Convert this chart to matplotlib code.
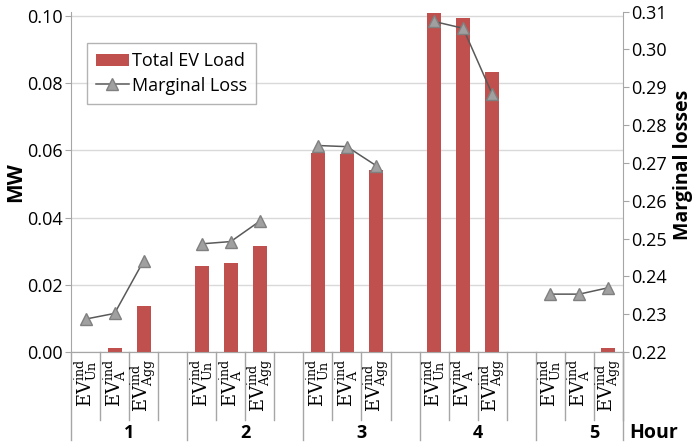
import numpy as np
import matplotlib
matplotlib.use("Agg")
import matplotlib.pyplot as plt
from matplotlib.transforms import blended_transform_factory

plt.rcParams["font.family"] = ["Open Sans", "DejaVu Sans"]
plt.rcParams["mathtext.fontset"] = "dejavuserif"

# Data
hours = ["1", "2", "3", "4", "5"]
schemes = [r"$\mathrm{EV}_{\mathrm{Un}}^{\mathrm{ind}}$",
           r"$\mathrm{EV}_{\mathrm{A}}^{\mathrm{ind}}$",
           r"$\mathrm{EV}_{\mathrm{Agg}}^{\mathrm{ind}}$"]
ev_load = [
    [0.0, 0.0011, 0.0138],
    [0.0257, 0.0264, 0.0315],
    [0.0592, 0.0588, 0.0542],
    [0.1008, 0.0993, 0.0834],
    [0.0, 0.0, 0.0011],
]
marginal_loss = [
    [0.2287, 0.2302, 0.2441],
    [0.2486, 0.2492, 0.2546],
    [0.2746, 0.2743, 0.2693],
    [0.3074, 0.3056, 0.2882],
    [0.2353, 0.2353, 0.2370],
]

bar_color = "#c0504d"
grid_color = "#d9d9d9"
axis_color = "#a6a6a6"

fig = plt.figure(figsize=(6.96, 4.48), dpi=100)
ax = fig.add_axes([0.102, 0.2143, 0.793, 0.7597])
ax2 = ax.twinx()

slots = 4  # 3 schemes + blank gap per hour
for g in range(len(hours)):
    xs = [slots * g + k for k in range(len(schemes))]
    ax.bar(xs, ev_load[g], width=0.48, color=bar_color, zorder=3,
           label="Total EV Load" if g == 0 else None)
    ax2.plot(xs, marginal_loss[g], color="#595959", lw=1.1, marker="^",
             markersize=8, markerfacecolor="#a0a0a0", markeredgecolor="#808080",
             zorder=4, label="Marginal Loss" if g == 0 else None)

ax.set_xlim(-0.5, 18.5)
ax.set_ylim(0, 0.1013)
ax.set_yticks(np.arange(0, 0.101, 0.02))
ax.set_yticklabels([f"{v:.2f}" for v in np.arange(0, 0.101, 0.02)])
ax2.set_ylim(0.22, 0.31)
ax2.set_yticks(np.arange(0.22, 0.3101, 0.01))
ax2.set_yticklabels([f"{v:.2f}" for v in np.arange(0.22, 0.3101, 0.01)])

ax.yaxis.grid(True, color=grid_color, lw=1)
ax.set_axisbelow(True)
ax.set_xticks([])
ax2.set_xticks([])

for a in (ax, ax2):
    for s in a.spines.values():
        s.set_color(axis_color)
    a.spines["top"].set_visible(False)
    a.tick_params(axis="y", labelsize=13, colors="black", length=4,
                  color=axis_color, pad=2)
ax2.spines["left"].set_visible(False)
ax.spines["right"].set_visible(False)

ax.set_ylabel("MW", fontsize=15, fontweight="bold", va="center")
ax.yaxis.set_label_coords(-0.101, 0.5)
ax2.set_ylabel("Marginal losses", fontsize=14, fontweight="bold",
               va="center", rotation=90)
ax2.yaxis.set_label_coords(1.109, 0.55)

# category labels and separators below the axis
trans = blended_transform_factory(ax.transData, ax.transAxes)
ax_h = ax.get_position().height * fig.get_figheight() * fig.dpi
short_len = 68 / ax_h
long_len = 88 / ax_h
for g, h in enumerate(hours):
    for k, lab in enumerate(schemes):
        x = slots * g + k
        ax.text(x, -7 / ax_h, lab, transform=trans, rotation=90, ha="center",
                va="top", fontsize=13)
        ax.plot([x + 0.5, x + 0.5], [0, -short_len], transform=trans,
                color=axis_color, lw=1, clip_on=False)
    ax.plot([slots * g - 0.5] * 2, [0, -long_len], transform=trans,
            color=axis_color, lw=1, clip_on=False)
    ax.text(slots * g + 1.5, -81 / ax_h, h, transform=trans, ha="center",
            va="center", fontsize=13, fontweight="bold")
ax.plot([18.5, 18.5], [0, -long_len], transform=trans, color=axis_color,
        lw=1, clip_on=False)
fig.text(629 / 696, 1 - 433 / 448, "Hour", ha="left", va="center",
         fontsize=14, fontweight="bold")

h1, l1 = ax.get_legend_handles_labels()
h2, l2 = ax2.get_legend_handles_labels()
leg = ax2.legend(h1 + h2, l1 + l2, loc="upper left",
                 bbox_to_anchor=(0.029, 0.907), borderaxespad=0,
                 fontsize=13, frameon=True, fancybox=False,
                 edgecolor="#a0a0a0", handlelength=1.8, handletextpad=0.2,
                 borderpad=0.5, labelspacing=0.35)
leg.get_frame().set_linewidth(1)

fig.savefig("out.png", dpi=100)
